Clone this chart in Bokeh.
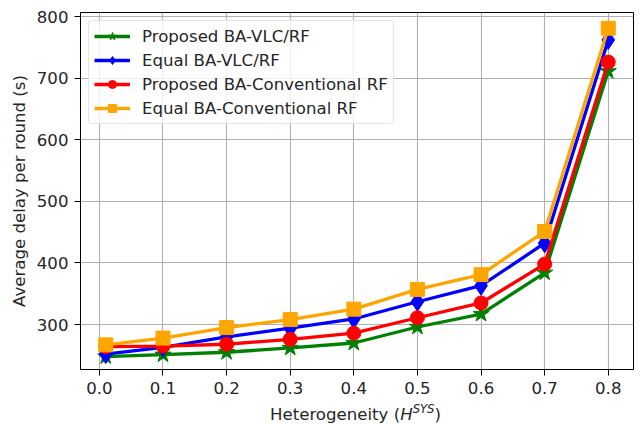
from bokeh.plotting import figure
from bokeh.layouts import column
from bokeh.models import (Range1d, FixedTicker, NumeralTickFormatter, Legend,
                          LegendItem, Div)
from bokeh.embed import file_html
from bokeh.resources import INLINE

# Heterogeneity levels and average delay per round (s) for each scheme
heterogeneity = [0.01, 0.1, 0.2, 0.3, 0.4, 0.5, 0.6, 0.7, 0.8]
proposed_vlc_rf = [248, 251, 255, 262, 270, 296, 317, 384, 711]
equal_vlc_rf = [252, 263, 280, 294, 309, 337, 363, 432, 762]
proposed_conv_rf = [264, 265, 268, 276, 286, 311, 335, 398, 726]
equal_conv_rf = [267, 278, 295, 308, 325, 357, 381, 451, 781]

x_ticks = [0.0, 0.1, 0.2, 0.3, 0.4, 0.5, 0.6, 0.7, 0.8]
y_ticks = [300, 400, 500, 600, 700, 800]

FONT = "DejaVu Sans"
FS = "16.6px"
TXT = "#262626"

p = figure(width=642, height=400, output_backend="svg", toolbar_location=None,
           x_range=Range1d(-0.0297, 0.8397), y_range=Range1d(227, 806.5),
           min_border_left=80, min_border_right=9, min_border_top=12,
           min_border_bottom=31, margin=0)
p.background_fill_color = "white"
p.border_fill_color = "white"
p.outline_line_color = "black"
p.outline_line_width = 1

for ax in (p.xaxis[0], p.yaxis[0]):
    ax.major_tick_in = 0
    ax.major_tick_out = 6
    ax.minor_tick_line_color = None
    ax.major_label_text_font = FONT
    ax.major_label_text_font_size = FS
    ax.major_label_text_color = TXT
    ax.axis_line_color = "black"
    ax.major_tick_line_color = "black"
    ax.major_label_standoff = 6

p.xaxis.ticker = FixedTicker(ticks=x_ticks)
p.xaxis.formatter = NumeralTickFormatter(format="0.0")
p.yaxis.ticker = FixedTicker(ticks=y_ticks)

p.yaxis.axis_label = "Average delay per round (s)"
p.yaxis.axis_label_text_font = FONT
p.yaxis.axis_label_text_font_size = FS
p.yaxis.axis_label_text_font_style = "normal"
p.yaxis.axis_label_text_color = TXT
p.yaxis.axis_label_standoff = 5

p.xgrid.grid_line_color = "#b0b0b0"
p.ygrid.grid_line_color = "#b0b0b0"
p.xgrid.grid_line_width = 1.1
p.ygrid.grid_line_width = 1.1

series = [
    ("Proposed BA-VLC/RF", proposed_vlc_rf, "green", "star", 17),
    ("Equal BA-VLC/RF", equal_vlc_rf, "blue", "diamond", 19),
    ("Proposed BA-Conventional RF", proposed_conv_rf, "red", "circle", 14),
    ("Equal BA-Conventional RF", equal_conv_rf, "orange", "square", 14),
]

items = []
for name, ys, color, marker, size in series:
    ln = p.line(heterogeneity, ys, line_color=color, line_width=3.3)
    sc = p.scatter(heterogeneity, ys, marker=marker, size=size,
                   fill_color=color, line_color=color)
    items.append(LegendItem(label=name, renderers=[ln, sc]))

legend = Legend(items=items, location="top_left")
legend.label_text_font = FONT
legend.label_text_font_size = FS
legend.label_text_color = TXT
legend.glyph_width = 36
legend.glyph_height = 20
legend.label_height = 20
legend.spacing = 4
legend.label_standoff = 12
legend.padding = 5
legend.margin = 8
legend.border_line_color = "#cccccc"
legend.border_line_width = 1
legend.border_radius = 4
legend.background_fill_alpha = 0.8
p.add_layout(legend)

# x-axis title with italic H and superscript SYS, set under the plot
xlabel = Div(
    text=(
        '<span style="position:absolute;left:270px;top:5px;'
        'font-family:\'DejaVu Sans\';font-size:16.6px;line-height:20px;'
        'color:#262626;white-space:nowrap">Heterogeneity ('
        '<i>H</i><span style="font-style:italic;font-size:11.6px;'
        'position:relative;top:-7px">SYS</span>)</span>'
    ),
    width=642, height=24, margin=0,
)

layout = column(p, xlabel, spacing=0)
open("out.html", "w").write(file_html(layout, INLINE))
